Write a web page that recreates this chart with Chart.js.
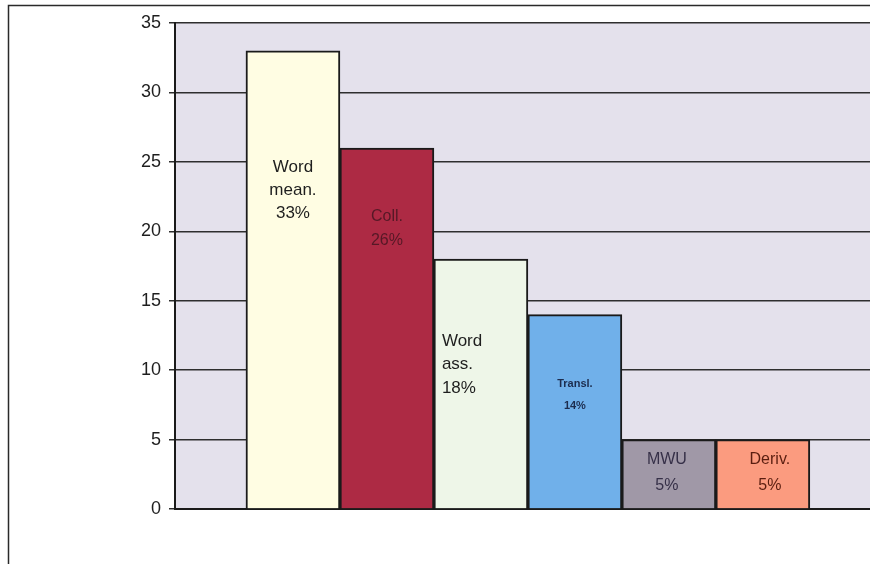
<!DOCTYPE html>
<html>
<head>
<meta charset="utf-8">
<script src="https://cdn.jsdelivr.net/npm/chart.js@4"></script>
<style>
  html, body { margin: 0; padding: 0; background: #fff; }
  #wrap { position: relative; width: 870px; height: 564px; }
</style>
</head>
<body>
<div id="wrap"><canvas id="barChart" width="870" height="564"></canvas></div>
<script>
// task types and their share (%)
var categories = ['Word mean.', 'Coll.', 'Word ass.', 'Transl.', 'MWU', 'Deriv.'];
var shares = [33, 26, 18, 14, 5, 5];
var yTicks = [0, 5, 10, 15, 20, 25, 30, 35];

// text printed inside each bar
var barLabels = [
    ['Word', 'mean.', '33%'],
    ['Coll.', '26%'],
    ['Word', 'ass.', '18%'],
    ['Transl.', '14%'],
    ['MWU', '5%'],
    ['Deriv.', '5%']
];

var barColors = ['#fffde3', '#ad2a44', '#eef6e8', '#70b0ea', '#a098a7', '#fb9b7f'];
var labelStyle = [
    { size: 17, weight: 'normal', color: '#1e1e1e', dy: 117, lh: 23, align: 'center', dx: 0 },
    { size: 16, weight: 'normal', color: '#561826', dy: 69, lh: 24, align: 'center', dx: 0 },
    { size: 17, weight: 'normal', color: '#1e1e1e', dy: 82, lh: 23.5, align: 'left', dx: -39 },
    { size: 11, weight: 'bold', color: '#1c2c4e', dy: 69, lh: 22, align: 'center', dx: 0 },
    { size: 16, weight: 'normal', color: '#363048', dy: 20, lh: 26, align: 'center', dx: -2 },
    { size: 16, weight: 'normal', color: '#5a1e10', dy: 20, lh: 26, align: 'center', dx: 7 }
];

var framePlugin = {
    id: 'frame',
    beforeDraw: function(chart) {
        var c = chart.ctx, a = chart.chartArea;
        c.save();
        // outer border
        c.strokeStyle = '#2a2a2a';
        c.lineWidth = 1.5;
        c.beginPath();
        c.moveTo(8.5, 564);
        c.lineTo(8.5, 5.5);
        c.lineTo(870, 5.5);
        c.stroke();
        // plot background
        c.fillStyle = '#e4e1ec';
        c.fillRect(a.left, a.top, a.right - a.left, a.bottom - a.top);
        c.restore();
    }
};

var barTextPlugin = {
    id: 'barText',
    afterDatasetsDraw: function(chart) {
        var c = chart.ctx;
        var meta = chart.getDatasetMeta(0);
        c.save();
        c.textBaseline = 'middle';
        meta.data.forEach(function(bar, i) {
            var st = labelStyle[i];
            c.font = st.weight + ' ' + st.size + 'px "Liberation Sans", Arial, sans-serif';
            c.fillStyle = st.color;
            c.textAlign = st.align;
            barLabels[i].forEach(function(line, k) {
                c.fillText(line, bar.x + st.dx, bar.y + st.dy + k * st.lh);
            });
        });
        c.restore();
    }
};

var ctx = document.getElementById('barChart').getContext('2d');
var barChart = new Chart(ctx, {
    type: 'bar',
    data: {
        datasets: [{
            label: 'Share',
            data: shares.map(function(v, i) { return { x: i, y: v }; }),
            backgroundColor: barColors,
            borderColor: '#1a1a1a',
            borderWidth: 2,
            borderSkipped: 'bottom',
            barPercentage: 1,
            categoryPercentage: 1
        }]
    },
    options: {
        responsive: false,
        animation: false,
        layout: { padding: { top: 23, right: 0, bottom: 47, left: 0 } },
        plugins: {
            legend: { display: false },
            tooltip: { enabled: false }
        },
        scales: {
            x: {
                type: 'linear',
                offset: false,
                min: -1.255,
                max: 6.14,
                grid: { display: false },
                ticks: { display: false, stepSize: 1, includeBounds: false },
                border: { color: '#1a1a1a', width: 2 }
            },
            y: {
                min: 0,
                max: 35,
                afterBuildTicks: function(s) {
                    s.ticks = yTicks.map(function(v) { return { value: v }; });
                },
                afterFit: function(s) { s.width = 175; },
                ticks: {
                    color: '#1e1e1e',
                    padding: 8,
                    font: { family: '"Liberation Sans", Arial, sans-serif', size: 18 }
                },
                grid: {
                    color: '#2e2e2e',
                    lineWidth: 1.5,
                    tickLength: 6,
                    tickColor: '#2e2e2e'
                },
                border: { color: '#1a1a1a', width: 2 }
            }
        }
    },
    plugins: [framePlugin, barTextPlugin]
});
</script>
</body>
</html>
